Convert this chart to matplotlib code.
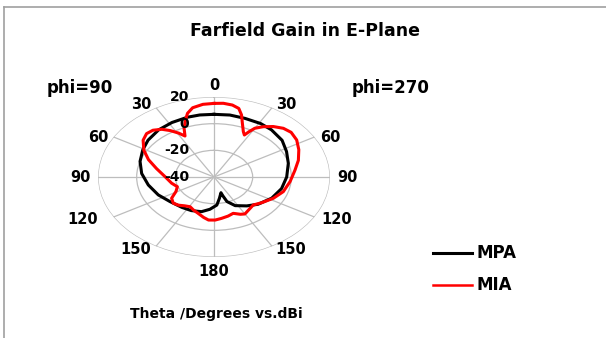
import numpy as np
import matplotlib
matplotlib.use("Agg")
import matplotlib.pyplot as plt
from matplotlib.lines import Line2D
from matplotlib.transforms import ScaledTranslation

# ---- data (theta in degrees, clockwise from top; gain in dBi) ----
mpa_theta = [0, 10, 20, 31, 40, 52, 63, 75, 90, 104, 118, 132, 142, 153, 160, 162, 163, 170, 176,
             185, 194, 205, 216, 231, 245, 260, 274, 287, 299, 309, 321, 332, 343, 351, 360]
mpa_gain = [7.0, 7.2, 6.8, 6.8, 6.2, 4.7, 2.1, -0.2, -2.4, -4.0, -6.2, -9.4, -12.5, -15.9, -20.4,
            -25.1, -27.7, -23.8, -18.9, -15.7, -13.2, -12.2, -11.8, -10.7, -8.2, -5.5, -2.5, 0.0,
            2.1, 3.9, 5.5, 6.3, 6.9, 7.1, 7.0]

mia_theta = [0, 5, 10, 14, 17, 20, 24, 26.5, 28, 30, 34, 39, 44.5, 50, 57, 65, 74, 83, 95, 107,
             117.5, 128, 136, 144, 150, 154, 160, 166, 173, 179, 185, 190, 197, 203, 209, 215,
             221, 227, 234, 241, 249, 258, 270.5, 282, 291, 299, 307, 313, 318, 323, 327, 331,
             334, 337, 341, 344, 348, 354, 360]
mia_gain = [15.2, 15.5, 14.8, 13.0, 8.7, 2.9, -2.7, -4.8, -1.6, 2.2, 5.5, 8.7, 11.2, 12.1, 11.0,
            8.4, 5.4, 2.2, -0.5, -2.5, -5.4, -8.7, -10.8, -9.5, -8.0, -8.9, -11.0, -9.8, -8.7,
            -7.7, -7.6, -9.2, -11.6, -13.0, -14.5, -13.6, -12.0, -11.2, -12.9, -17.5, -19.7,
            -17.6, -14.7, -9.6, -3.7, 1.5, 5.9, 7.7, 7.2, 4.8, 1.5, -2.4, -5.8, -0.4, 5.3, 9.7,
            13.1, 14.8, 15.2]

r_ticks = [-40, -20, 0, 20]
r_labels = ["-40", "-20", "0", "20"]
ang_ticks = [0, 30, 60, 90, 120, 150, 180, 210, 240, 270, 300, 330]
ang_labels = ["0", "30", "60", "90", "120", "150", "180", "150", "120", "90", "60", "30"]

W, H = 606, 338
fig = plt.figure(figsize=(W / 100, H / 100), dpi=100)
fig.patch.set_facecolor("white")

cx, cy, rx, ry = 214, 177, 116, 80
ax = fig.add_axes([(cx - rx) / W, 1 - (cy + ry) / H, 2 * rx / W, 2 * ry / H], projection="polar")
ax.set_aspect("auto")
ax.set_theta_zero_location("N")
ax.set_theta_direction(-1)
ax.set_ylim(-40, 20)
ax.set_rorigin(-40)
ax.spines["polar"].set_visible(False)
ax.set_facecolor("none")

ax.set_xticks(np.deg2rad(ang_ticks))
ax.set_xticklabels([""] * len(ang_ticks))
ax.set_yticks(r_ticks)
ax.set_yticklabels([""] * len(r_ticks))
ax.grid(True, color="#bdbdbd", lw=0.9)

ax.plot(np.deg2rad(mpa_theta), mpa_gain, color="black", lw=2.2, zorder=3,
        solid_joinstyle="round")
ax.plot(np.deg2rad(mia_theta), mia_gain, color="#ff0000", lw=2.2, zorder=4,
        solid_joinstyle="round")

fam = ["DejaVu Sans"]
off = ScaledTranslation(-25 / 100, 0, fig.dpi_scale_trans)
for v, lab in zip(r_ticks, r_labels):
    ax.text(0, v, lab, transform=ax.transData + off, ha="right", va="center",
            fontsize=10, fontweight="bold", family=fam, zorder=5)

ang_pos = {0: (214, 85), 30: (286, 105), 60: (330, 137), 90: (347, 178), 120: (337, 220),
           150: (291, 250), 180: (214, 271), 210: (136, 250), 240: (83, 220), 270: (80, 178),
           300: (98, 137), 330: (141, 105)}
for a, lab in zip(ang_ticks, ang_labels):
    px, py = ang_pos[a]
    fig.text(px / W, 1 - py / H, lab, ha="center", va="center", fontsize=10.5,
             fontweight="bold", family=fam)

fig.text(305 / W, 1 - 31 / H, "Farfield Gain in E-Plane", ha="center", va="center",
         fontsize=12.5, fontweight="bold", family=fam)
fig.text(80 / W, 1 - 88 / H, "phi=90", ha="center", va="center", fontsize=12,
         fontweight="bold", family=fam)
fig.text(391 / W, 1 - 88 / H, "phi=270", ha="center", va="center", fontsize=12,
         fontweight="bold", family=fam)
fig.text(216 / W, 1 - 314 / H, "Theta /Degrees vs.dBi", ha="center", va="center",
         fontsize=10, fontweight="bold", family=fam)

for yy, col, lab, lw in [(253, "black", "MPA", 2.2), (285, "#ff0000", "MIA", 1.8)]:
    fig.add_artist(Line2D([433 / W, 472 / W], [1 - yy / H, 1 - yy / H], color=col, lw=lw))
    fig.text(476 / W, 1 - yy / H, lab, ha="left", va="center", fontsize=12,
             fontweight="bold", family=fam)

fig.add_artist(Line2D([4 / W, 1], [1 - 7 / H, 1 - 7 / H], color="#a0a0a0", lw=1.2))
fig.add_artist(Line2D([4 / W, 4 / W], [0, 1 - 7 / H], color="#a0a0a0", lw=1.2))

fig.savefig("out.png", dpi=100, facecolor="white")
